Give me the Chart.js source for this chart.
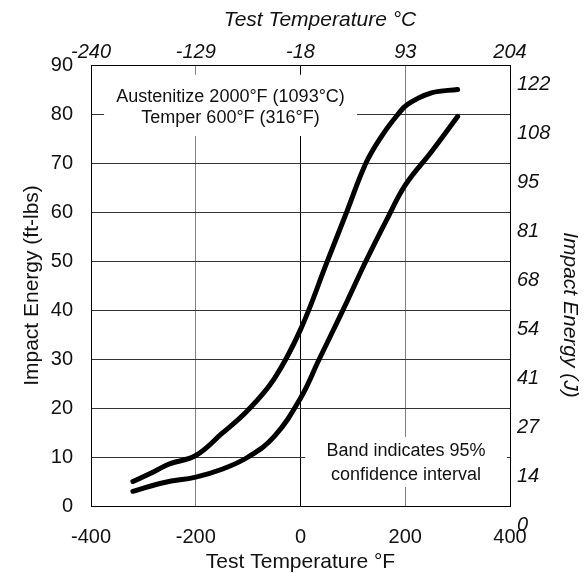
<!DOCTYPE html>
<html lang="en">
<head>
<meta charset="utf-8">
<script src="https://cdn.jsdelivr.net/npm/chart.js@4.4.0/dist/chart.umd.min.js"></script>
<style>
  body { margin: 0; background: #fff; }
  #box { width: 585px; height: 573px; }
</style>
</head>
<body>
<div id="box"><canvas id="impactPlot"></canvas></div>

<script>
// upper edge of the 95% band (deg F, ft-lbs)
const upperTempF  = [-320, -280, -250, -200, -150, -100, -50, 0, 50, 90, 125, 155, 185, 205, 250, 300];
const upperEnergy = [5, 7, 8.6, 10.3, 14.8, 19.6, 26, 36, 49.6, 60.5, 70, 75.5, 79.8, 82, 84.3, 85];

// lower edge of the band
const lowerTempF  = [-320, -260, -200, -150, -100, -50, 0, 35, 60, 90, 125, 165, 200, 250, 300];
const lowerEnergy = [3, 4.8, 5.9, 7.5, 10, 14.2, 22, 29.8, 35.3, 42, 50, 58.5, 65.5, 72.3, 79.5];

// secondary axis labels
const celsiusLabels = ['-240', '-129', '-18', '93', '204'];
const jouleLabels = ['0', '14', '27', '41', '54', '68', '81', '95', '108', '122'];

const notes = [
    { lines: ['Austenitize 2000\u00B0F (1093\u00B0C)', 'Temper 600\u00B0F (316\u00B0F)'], x0: -375, x1: 108, y0: 75.5, y1: 88, lh: 21, dy: 2 },
    { lines: ['Band indicates 95%', 'confidence interval'], x0: 9, x1: 394, y0: 3.9, y1: 14.1, lh: 24, dy: 1 },
];

const FONT = "'Liberation Sans', Arial, sans-serif";

function pairs(xs, ys) {
    return xs.map((x, i) => ({ x: x, y: ys[i] }));
}

const notePlugin = {
    id: 'notes',
    beforeDatasetsDraw(chart) {
        const { ctx, scales } = chart;
        const x = scales.x, y = scales.y;
        ctx.save();
        notes.forEach((n) => {
            const l = x.getPixelForValue(n.x0), r = x.getPixelForValue(n.x1);
            const t = y.getPixelForValue(n.y1), b = y.getPixelForValue(n.y0);
            ctx.fillStyle = '#fff';
            ctx.fillRect(l, t, r - l, b - t);
            ctx.fillStyle = '#111';
            ctx.font = '18px ' + FONT;
            ctx.textAlign = 'center';
            ctx.textBaseline = 'middle';
            const cx = (l + r) / 2, cy = (t + b) / 2 + n.dy;
            n.lines.forEach((s, i) => {
                ctx.fillText(s, cx, cy + (i - (n.lines.length - 1) / 2) * n.lh);
            });
        });
        ctx.restore();
    },
    afterDraw(chart) {
        const { ctx } = chart;
        ctx.save();
        ctx.fillStyle = '#111';
        ctx.font = 'italic 21px ' + FONT;
        ctx.textAlign = 'center';
        ctx.textBaseline = 'middle';
        ctx.fillText('Test Temperature \u00B0C', 320, 20);
        ctx.translate(570, 315);
        ctx.rotate(Math.PI / 2);
        ctx.fillText('Impact Energy (J)', 0, 0);
        ctx.restore();
    }
};

const lineStyle = {
    borderColor: '#000',
    borderWidth: 5,
    borderCapStyle: 'round',
    borderJoinStyle: 'round',
    pointRadius: 0,
    tension: 0.4,
    fill: false,
};

const ctx = document.getElementById('impactPlot').getContext('2d');
const impactChart = new Chart(ctx, {
    type: 'line',
    data: {
        datasets: [
            { label: 'upper', data: pairs(upperTempF, upperEnergy), ...lineStyle },
            { label: 'lower', data: pairs(lowerTempF, lowerEnergy), ...lineStyle },
        ]
    },
    options: {
        responsive: true,
        maintainAspectRatio: false,
        animation: false,
        layout: { padding: 0 },
        plugins: {
            legend: { display: false },
            tooltip: { enabled: false },
        },
        scales: {
            x: {
                type: 'linear',
                position: 'bottom',
                min: -400, max: 400,
                afterFit: (s) => { s.height = 67; },
                ticks: { stepSize: 200, color: '#111', padding: 19, font: { family: FONT, size: 20 } },
                grid: {
                    drawTicks: false,
                    color: (c) => (c.tick && c.tick.value === 0 ? '#000' : '#808080'),
                },
                border: { color: '#000', width: 1 },
                title: {
                    display: true, text: 'Test Temperature \u00B0F', color: '#111',
                    font: { family: FONT, size: 21, lineHeight: 1 }, padding: { top: 0, bottom: 0 },
                },
            },
            x2: {
                type: 'linear',
                position: 'top',
                min: -400, max: 400,
                afterFit: (s) => { s.height = 65; },
                ticks: {
                    stepSize: 200, color: '#111', padding: 1,
                    font: { family: FONT, size: 20, style: 'italic' },
                    callback: (v, i) => celsiusLabels[i],
                },
                grid: { display: false, drawTicks: false },
                border: { color: '#000', width: 1 },
            },
            y: {
                position: 'left',
                min: 0, max: 90,
                afterFit: (s) => { s.width = 91; },
                ticks: { stepSize: 10, color: '#111', padding: 18, font: { family: FONT, size: 20 } },
                grid: { drawTicks: false, color: '#333' },
                border: { color: '#000', width: 1 },
                title: {
                    display: true, text: 'Impact Energy (ft-lbs)', color: '#111',
                    font: { family: FONT, size: 21, lineHeight: 1 }, padding: { top: 22, bottom: 0 },
                },
            },
            y2: {
                position: 'right',
                min: 0, max: 90,
                afterFit: (s) => { s.width = 75; },
                ticks: {
                    stepSize: 10, color: '#111', padding: 7, labelOffset: 19, autoSkip: false,
                    font: { family: FONT, size: 20, style: 'italic' },
                    callback: (v, i) => jouleLabels[i],
                },
                grid: { display: false, drawTicks: false },
                border: { color: '#000', width: 1 },
            },
        },
    },
    plugins: [notePlugin],
});
</script>
</body>
</html>
